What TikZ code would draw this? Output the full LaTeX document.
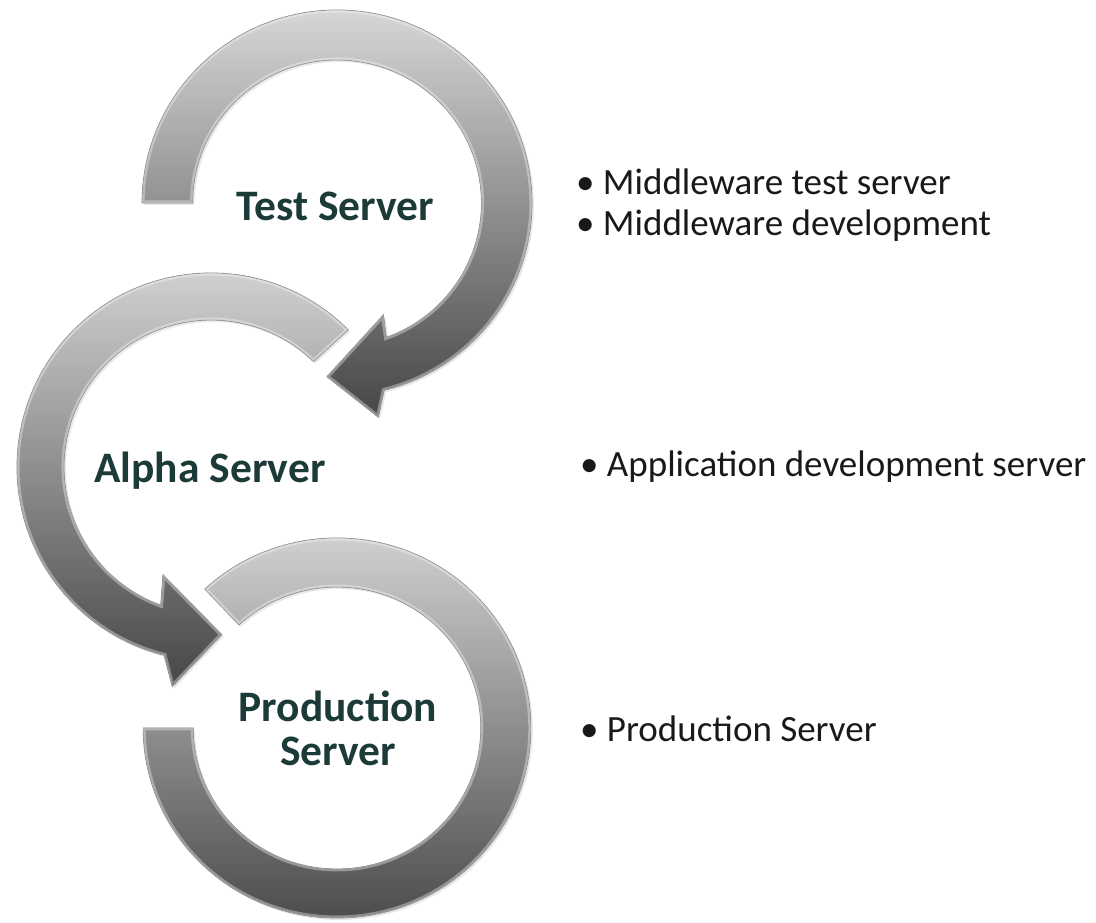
\documentclass[tikz,border=0pt]{standalone}
\usepackage{fontspec}
\setmainfont{Carlito}
\usetikzlibrary{shadows}
\definecolor{labelc}{RGB}{28,58,56}
\definecolor{ringtop}{RGB}{214,214,214}
\definecolor{ringbot}{RGB}{70,70,70}
\tikzset{
  ring/.style={top color=ringtop, bottom color=ringbot, draw=black!50, line width=0.8pt,
    drop shadow={opacity=0.18, shadow xshift=2pt, shadow yshift=-2pt}},
  bevel/.style={draw=white, opacity=0.35, line width=5pt},
  lbl/.style={font=\fontsize{43.5}{46}\selectfont\bfseries, text=labelc, inner sep=0pt, anchor=base},
  bul/.style={font=\fontsize{37}{44}\selectfont, text=black!90, inner sep=0pt, anchor=base west},
  testpath/.style={insert path={(180:193) arc[start angle=180, end angle=-76, radius=193]
    -- (-79.2:218) -- (-93.3:174) -- (-67.7:121) -- (-70:143)
    arc[start angle=-70, end angle=180, radius=143] -- cycle}},
  alphapath/.style={insert path={(45:194) arc[start angle=45, end angle=256, radius=194]
    -- (260:223) -- (273.7:168) -- (246:118) -- (250:147)
    arc[start angle=250, end angle=45.8, radius=147] -- cycle}},
  prodpath/.style={insert path={(133:190) arc[start angle=133, end angle=-180, radius=190]
    -- (180:141) arc[start angle=-180, end angle=133, radius=141] -- cycle}},
}
\begin{document}
\begin{tikzpicture}[x=1pt,y=1pt]
\useasboundingbox (0,0) rectangle (1096,922);
% Test server arrow
\begin{scope}[shift={(337,719)}, xscale=1.01]
  \path[ring, testpath];
  \begin{scope}\clip[testpath]; \path[bevel, testpath]; \end{scope}
\end{scope}
% Alpha server arrow
\begin{scope}[shift={(211,455)}]
  \path[ring, alphapath];
  \begin{scope}\clip[alphapath]; \path[bevel, alphapath]; \end{scope}
\end{scope}
% Production ring
\begin{scope}[shift={(337,194)}, xscale=1.02]
  \path[ring, prodpath];
  \begin{scope}\clip[prodpath]; \path[bevel, prodpath]; \end{scope}
\end{scope}
% labels
\node[lbl] (test) at (335.5,701) {Test Server};
\node[lbl] (alpha) at (210,439) {Alpha Server};
\node[lbl] (prod) at (338,200) {Production};
\node[lbl] (prod2) at (338,156) {Server};
% bullets
\node[bul] (b1) at (576,727) {• Middleware test server};
\node[bul] (b2) at (576,686) {• Middleware development};
\node[bul] (b3) at (580,445) {• Application development server};
\node[bul] (b4) at (580,180) {• Production Server};
\end{tikzpicture}
\end{document}
